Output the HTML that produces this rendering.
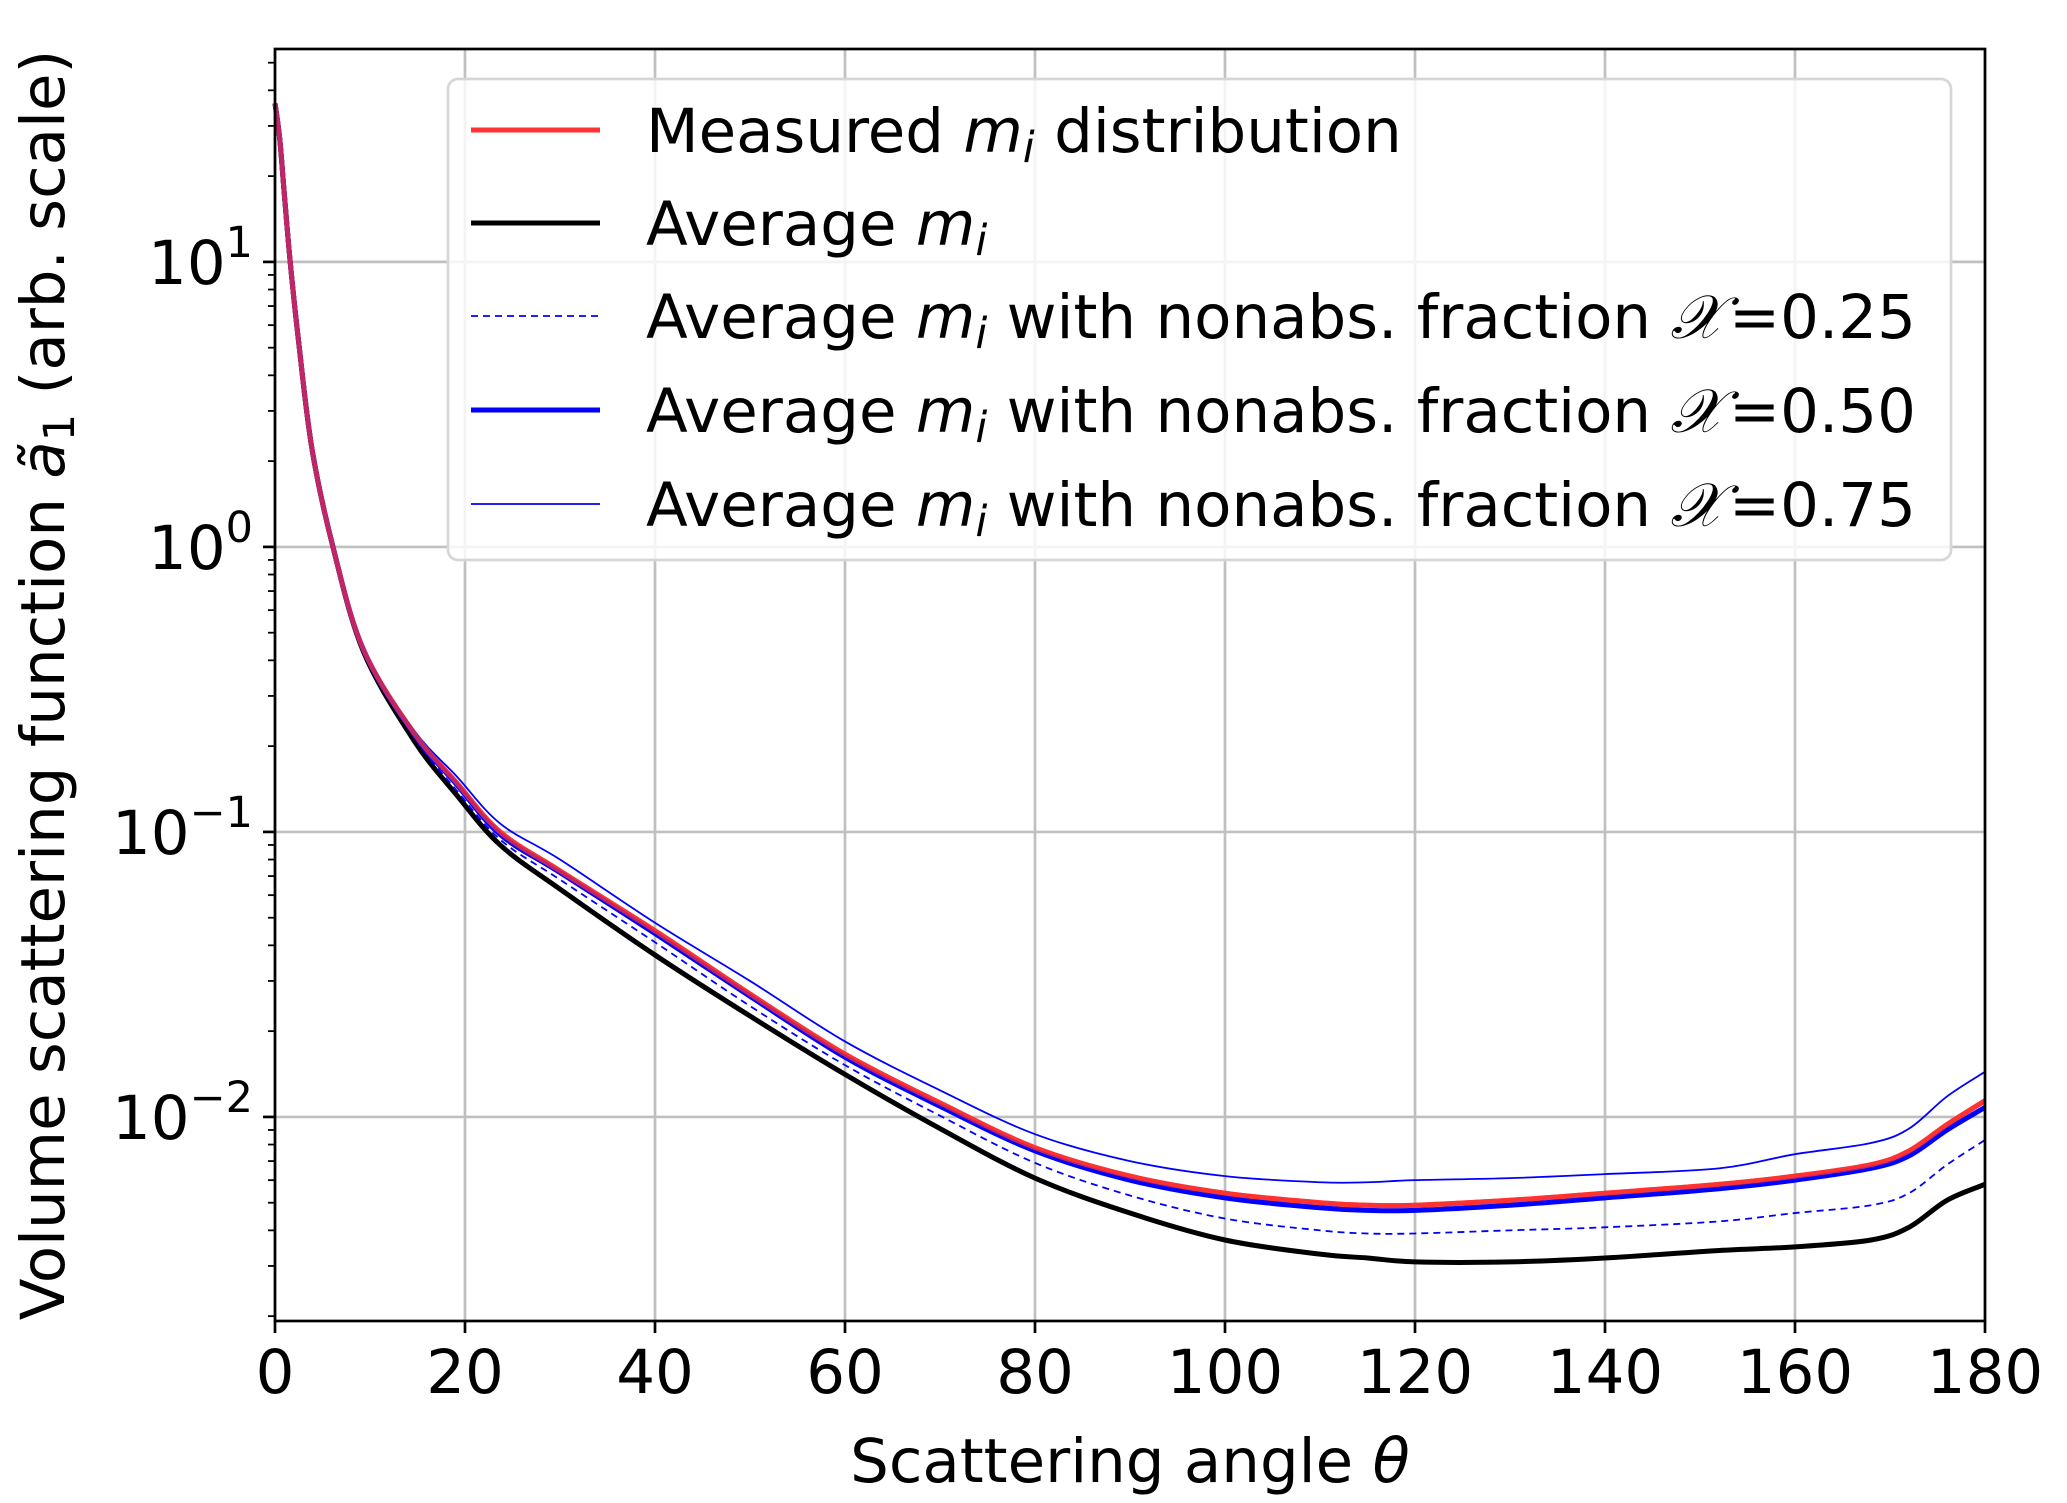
<!DOCTYPE html>
<html><head><meta charset="utf-8"><style>
html,body{margin:0;padding:0;background:#fff;}
svg{display:block;font-family:"DejaVu Sans","Liberation Sans",sans-serif;}
</style></head><body>
<svg id="chart" width="2067" height="1503" viewBox="0 0 2067 1503" xmlns="http://www.w3.org/2000/svg">
<rect width="2067" height="1503" fill="#fff"/>
<g id="grid"></g>
<g id="series"></g>
<g id="axes"></g>
<g id="legend"></g>
</svg>
<script>
const thetas = [0,0.5,1,1.6,2.5,3.9,6.1,9.3,14.6,19.1,23.7,30,40,50,60,70,80,90,100,110,115,120,130,140,152,160,168,172,176,180];
const measured = [36,27,17,10,5.2,2.2,1.0,0.437,0.223,0.149,0.1,0.073,0.045,0.027,0.0166,0.0112,0.0078,0.0062,0.0054,0.0050,0.0049,0.0049,0.0051,0.0054,0.0058,0.0062,0.0068,0.0076,0.0094,0.0114];
const average = [36,27,17,10,5.2,2.2,1.0,0.43,0.21,0.135,0.09,0.063,0.037,0.0226,0.0141,0.0091,0.0061,0.0046,0.0037,0.0033,0.0032,0.0031,0.0031,0.0032,0.0034,0.0035,0.0037,0.0041,0.0051,0.0058];
const frac25 = [36,27,17,10,5.2,2.2,1.0,0.432,0.216,0.14,0.094,0.068,0.041,0.0245,0.0152,0.0101,0.0069,0.0053,0.0044,0.0040,0.0039,0.0039,0.0040,0.0041,0.0043,0.0046,0.0049,0.0054,0.0068,0.0083];
const frac50 = [36,27,17,10,5.2,2.2,1.0,0.436,0.221,0.147,0.098,0.072,0.044,0.0265,0.0162,0.0109,0.0076,0.0060,0.0052,0.0048,0.0047,0.0047,0.0049,0.0052,0.0056,0.0060,0.0066,0.0073,0.0090,0.0108];
const frac75 = [36,27,17,10,5.2,2.2,1.0,0.44,0.228,0.157,0.107,0.08,0.048,0.030,0.0184,0.0124,0.0087,0.0070,0.0062,0.0059,0.0059,0.0060,0.0061,0.0063,0.0066,0.0074,0.0081,0.0091,0.0118,0.0144];
const xTicks = [0,20,40,60,80,100,120,140,160,180];
const yTickExps = [-2,-1,0,1];

const NS="http://www.w3.org/2000/svg";
const L=275,R=1985,T=49,B=1321;
const yLogMin=-2.716,yLogMax=1.747;
function xs(v){return L+(v-0)/(180-0)*(R-L);}
function ys(v){return B-(Math.log10(v)-yLogMin)/(yLogMax-yLogMin)*(B-T);}
function mk(tag,attrs,parent){const e=document.createElementNS(NS,tag);for(const k in attrs)e.setAttribute(k,attrs[k]);parent.appendChild(e);return e;}

const grid=document.getElementById('grid');
xTicks.forEach(t=>{
  const l=mk('line',{x1:xs(t),x2:xs(t),y1:T,y2:B,stroke:'#c0c0c0','stroke-width':2.7},grid);
  
  
});
yTickExps.forEach(e=>{
  const l=mk('line',{x1:L,x2:R,y1:ys(Math.pow(10,e)),y2:ys(Math.pow(10,e)),stroke:'#c0c0c0','stroke-width':2.7},grid);
  
  
});

function pathFor(vals){
  const p=thetas.map((t,i)=>[xs(t),ys(vals[i])]);
  let d='M'+p[0][0].toFixed(2)+','+p[0][1].toFixed(2);
  for(let i=0;i<p.length-1;i++){
    const p0=p[Math.max(0,i-1)],p1=p[i],p2=p[i+1],p3=p[Math.min(p.length-1,i+2)];
    const c1=[p1[0]+(p2[0]-p0[0])/6,p1[1]+(p2[1]-p0[1])/6];
    const c2=[p2[0]-(p3[0]-p1[0])/6,p2[1]-(p3[1]-p1[1])/6];
    d+=' C'+c1[0].toFixed(2)+','+c1[1].toFixed(2)+' '+c2[0].toFixed(2)+','+c2[1].toFixed(2)+' '+p2[0].toFixed(2)+','+p2[1].toFixed(2);
  }
  return d;
}
const ser=document.getElementById('series');
const defs=[
  {v:measured,c:'#ff3333',w:5,dash:null,n:'measured-line'},
  {v:average,c:'#000000',w:5,dash:null,n:'average-line'},
  {v:frac25,c:'#0000ff',w:1.8,dash:'7,5',n:'fraction-025-line'},
  {v:frac50,c:'#0000ff',w:5,dash:null,n:'fraction-050-line'},
  {v:frac75,c:'#0000ff',w:1.8,dash:null,n:'fraction-075-line'}
];
defs.forEach(s=>{
  const a={d:pathFor(s.v),fill:'none',stroke:s.c,'stroke-width':s.w,'stroke-linejoin':'round'};
  if(s.dash)a['stroke-dasharray']=s.dash;
  const p=mk('path',a,ser);
  
  
});
const measuredOverlay=mk('path',{d:pathFor(measured),fill:'none',stroke:'#ff3333','stroke-width':5,opacity:0.75},ser);



const ax=document.getElementById('axes');
const frame=mk('rect',{x:L,y:T,width:R-L,height:B-T,fill:'none',stroke:'#000','stroke-width':2.7},ax);


xTicks.forEach(t=>{
  const tk=mk('line',{x1:xs(t),x2:xs(t),y1:B,y2:B+12,stroke:'#000','stroke-width':2.7},ax);
  
  
  const tx=mk('text',{x:xs(t),y:B+72,'font-size':61,'text-anchor':'middle',fill:'#000'},ax);
  tx.textContent=String(t);
  
  
});
yTickExps.forEach(e=>{
  const y=ys(Math.pow(10,e));
  const tk=mk('line',{x1:L-12,x2:L,y1:y,y2:y,stroke:'#000','stroke-width':2.7},ax);
  
  
  const tx=mk('text',{x:L-22,y:y+22,'font-size':61,'text-anchor':'end',fill:'#000'},ax);
  
  
  const b=mk('tspan',{},tx);b.textContent='10';
  const s=mk('tspan',{'font-size':43,dy:-27},tx);s.textContent=(e<0?'\u2212':'')+Math.abs(e);
});
for(let e=-3;e<=1;e++){for(let m=2;m<=9;m++){
  const v=m*Math.pow(10,e);const lv=Math.log10(v);
  if(lv<yLogMin||lv>yLogMax)continue;
  const tk=mk('line',{x1:L-7,x2:L,y1:ys(v),y2:ys(v),stroke:'#000','stroke-width':1.8},ax);
  
  
}}
const xl=mk('text',{x:(L+R)/2,y:1482,'font-size':61,'text-anchor':'middle',fill:'#000'},ax);


xl.innerHTML='Scattering angle <tspan font-style="italic">θ</tspan>';
const yl=mk('text',{x:0,y:0,'font-size':61,'text-anchor':'middle',fill:'#000',transform:'translate(64,'+((T+B)/2)+') rotate(-90)'},ax);


yl.innerHTML='Volume scattering function <tspan font-style="italic">ã</tspan><tspan font-size="43" dy="10">1</tspan><tspan dy="-10"> (arb. scale)</tspan>';

const lg=document.getElementById('legend');
const box=mk('rect',{x:448,y:79,width:1503,height:481,rx:10,fill:'rgba(255,255,255,0.82)',stroke:'#d6d6d6','stroke-width':2.7},lg);


const ly=[130,223,316,410,504];
const labels=[
 'Measured <tspan font-style="italic">m</tspan><tspan font-style="italic" font-size="43" dy="10">i</tspan><tspan dy="-10"> distribution</tspan>',
 'Average <tspan font-style="italic">m</tspan><tspan font-style="italic" font-size="43" dy="10">i</tspan>',
 'Average <tspan font-style="italic">m</tspan><tspan font-style="italic" font-size="43" dy="10">i</tspan><tspan dy="-10"> with nonabs. fraction </tspan><tspan font-style="italic" font-family="DejaVu Serif, serif">𝒳</tspan><tspan dx="6">=0.25</tspan>',
 'Average <tspan font-style="italic">m</tspan><tspan font-style="italic" font-size="43" dy="10">i</tspan><tspan dy="-10"> with nonabs. fraction </tspan><tspan font-style="italic" font-family="DejaVu Serif, serif">𝒳</tspan><tspan dx="6">=0.50</tspan>',
 'Average <tspan font-style="italic">m</tspan><tspan font-style="italic" font-size="43" dy="10">i</tspan><tspan dy="-10"> with nonabs. fraction </tspan><tspan font-style="italic" font-family="DejaVu Serif, serif">𝒳</tspan><tspan dx="6">=0.75</tspan>'
];
const names=['measured','average','fraction-025','fraction-050','fraction-075'];
defs.forEach((s,i)=>{
  const a={x1:471,x2:600,y1:ly[i],y2:ly[i],stroke:s.c,'stroke-width':s.w};
  if(s.dash)a['stroke-dasharray']=s.dash;
  const l=mk('line',a,lg);
  
  
  const t=mk('text',{x:646,y:ly[i]+22,'font-size':61,fill:'#000'},lg);
  
  
  t.innerHTML=labels[i];
});
</script>
</body></html>
